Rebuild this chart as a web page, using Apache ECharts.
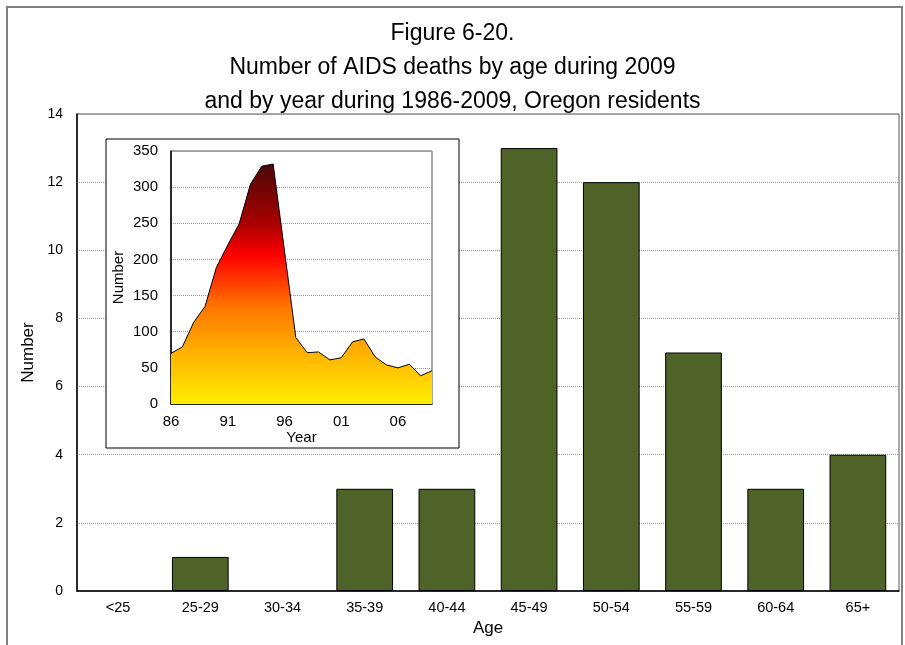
<!DOCTYPE html>
<html><head><meta charset="utf-8">
<script src="https://cdn.jsdelivr.net/npm/echarts@6/dist/echarts.min.js"></script>
<style>html,body{margin:0;padding:0;background:#fff}#c{width:905px;height:645px}</style>
</head><body><div id="c"></div>
<script>
const titleLines = ['Figure 6-20.', 'Number of AIDS deaths by age during 2009', 'and by year during 1986-2009, Oregon residents'];
const ageCategories = ['<25', '25-29', '30-34', '35-39', '40-44', '45-49', '50-54', '55-59', '60-64', '65+'];
const ageDeaths = [0, 1, 0, 3, 3, 13, 12, 7, 3, 4];
const yearLabels = ['86','87','88','89','90','91','92','93','94','95','96','97','98','99','00','01','02','03','04','05','06','07','08','09'];
const yearDeaths = [70, 79, 113, 135, 189, 220, 249, 304, 329, 332, 212, 92, 71, 72, 61, 64, 86, 90, 65, 54, 50, 55, 39, 46];

const FF = '"Liberation Sans", Arial, sans-serif';
const chart = echarts.init(document.getElementById('c'));
chart.setOption({
  animation: false,
  backgroundColor: '#fff',
  textStyle: { fontFamily: FF },
  title: {
    text: titleLines.join('\n'),
    left: 'center', top: 12,
    textStyle: { fontFamily: FF, fontSize: 23, fontWeight: 'normal', color: '#000', lineHeight: 34 }
  },
  graphic: [
    { type: 'rect', z: 1, shape: { x: 7, y: 7, width: 895, height: 1000 },
      style: { fill: 'none', stroke: '#808080', lineWidth: 2 } },
    { type: 'rect', z: 5, shape: { x: 106, y: 139, width: 353, height: 309 },
      style: { fill: '#fff', stroke: '#000', lineWidth: 1 } }
  ],
  grid: [
    { left: 77, right: 6, top: 114, bottom: 54, show: true, borderColor: '#555', borderWidth: 1 },
    { left: 171, width: 261, top: 151, height: 253, show: true, borderColor: '#555', borderWidth: 1, z: 10 }
  ],
  xAxis: [
    { type: 'category', gridIndex: 0, data: ageCategories,
      name: 'Age', nameLocation: 'middle', nameGap: 27,
      nameTextStyle: { fontFamily: FF, fontSize: 17, color: '#000' },
      axisLine: { lineStyle: { color: '#000', width: 1.5 } },
      axisTick: { show: false },
      axisLabel: { fontFamily: FF, fontSize: 14.5, color: '#000', margin: 9 } },
    { type: 'category', gridIndex: 1, data: yearLabels, boundaryGap: false, z: 10,
      name: 'Year', nameLocation: 'middle', nameGap: 26,
      nameTextStyle: { fontFamily: FF, fontSize: 15, color: '#000' },
      axisLine: { lineStyle: { color: '#000', width: 1.5 } },
      axisTick: { show: false },
      axisLabel: { fontFamily: FF, fontSize: 15, color: '#000', margin: 10, interval: 4 } }
  ],
  yAxis: [
    { type: 'value', gridIndex: 0, min: 0, max: 14, interval: 2,
      name: 'Number', nameLocation: 'middle', nameGap: 37,
      nameTextStyle: { fontFamily: FF, fontSize: 17, color: '#000' },
      axisLine: { show: true, lineStyle: { color: '#000', width: 1.5 } },
      axisTick: { show: false },
      axisLabel: { fontFamily: FF, fontSize: 14, color: '#000', margin: 14 },
      splitLine: { show: true, lineStyle: { color: '#999', type: [1, 1], width: 1 } } },
    { type: 'value', gridIndex: 1, min: 0, max: 350, interval: 50, z: 10,
      name: 'Number', nameLocation: 'middle', nameGap: 45,
      nameTextStyle: { fontFamily: FF, fontSize: 15, color: '#000' },
      axisLine: { show: true, lineStyle: { color: '#000', width: 1.5 } },
      axisTick: { show: false },
      axisLabel: { fontFamily: FF, fontSize: 15, color: '#000', margin: 13 },
      splitLine: { show: true, lineStyle: { color: '#999', type: [1, 1], width: 1 } } }
  ],
  series: [
    { type: 'bar', xAxisIndex: 0, yAxisIndex: 0, barWidth: '69%',
      data: ageDeaths.map(v => v === 0 ? { value: v, itemStyle: { borderWidth: 0 } } : v),
      itemStyle: { color: '#4f6228', borderColor: '#000', borderWidth: 1 } },
    { type: 'line', xAxisIndex: 1, yAxisIndex: 1, data: yearDeaths, z: 11,
      symbol: 'none', lineStyle: { color: '#000', width: 1 },
      areaStyle: { opacity: 1, color: new echarts.graphic.LinearGradient(0, 0, 0, 1, [
        { offset: 0, color: '#4a0808' },
        { offset: 0.25, color: '#aa0000' },
        { offset: 0.38, color: '#ff0000' },
        { offset: 0.6, color: '#ff7700' },
        { offset: 0.76, color: '#ffaa00' },
        { offset: 1, color: '#ffee00' }
      ]) } }
  ]
});
</script></body></html>
